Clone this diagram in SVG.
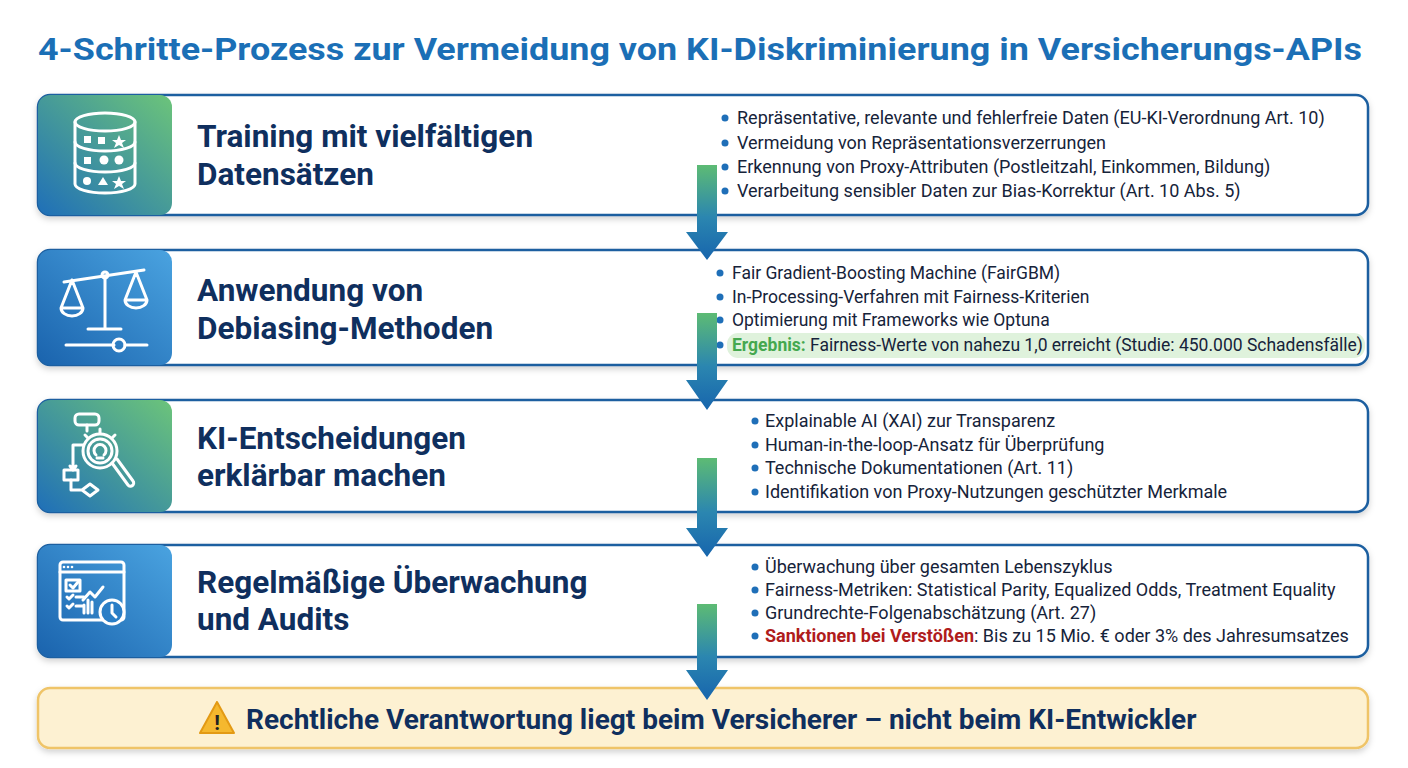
<svg xmlns="http://www.w3.org/2000/svg" width="1408" height="768" viewBox="0 0 1408 768">
<defs>
<linearGradient id="gGreen" x1="1" y1="0" x2="0" y2="1"><stop offset="0" stop-color="#6cc47a"/><stop offset="1" stop-color="#1f6fb8"/></linearGradient>
<linearGradient id="gBlue" x1="1" y1="0" x2="0" y2="1"><stop offset="0" stop-color="#4aa3e0"/><stop offset="1" stop-color="#1a63ad"/></linearGradient>
<linearGradient id="gArrow" x1="0" y1="0" x2="0" y2="1"><stop offset="0" stop-color="#5dbb74"/><stop offset="0.55" stop-color="#2b86b0"/><stop offset="1" stop-color="#1765ad"/></linearGradient>
<filter id="sh" x="-5%" y="-20%" width="110%" height="150%"><feDropShadow dx="0" dy="3" stdDeviation="3" flood-color="#000" flood-opacity="0.18"/></filter>
</defs>
<style>
.box{fill:#fff;stroke:#1d5fa0;stroke-width:2.5;filter:url(#sh)}
.ttl{font-family:Roboto,"Liberation Sans",sans-serif;font-weight:700;font-size:31.5px;fill:#0f2f5e}
.bl{font-family:Roboto,"Liberation Sans",sans-serif;font-size:18px;fill:#16233a}
.dot{fill:#1f6fb8}
.ic{fill:none;stroke:#fff;stroke-width:3;stroke-linecap:round;stroke-linejoin:round}
.icf{fill:#fff}
</style>
<rect width="1408" height="768" fill="#fff"/>
<text x="700" y="60" text-anchor="middle" font-family="Roboto,'Liberation Sans',sans-serif" font-weight="700" font-size="32" fill="#1b6fb6" textLength="1324" lengthAdjust="spacingAndGlyphs">4-Schritte-Prozess zur Vermeidung von KI-Diskriminierung in Versicherungs-APIs</text>

<g id="step1">
<rect class="box" x="38" y="95" width="1330" height="120" rx="12"/>
<path d="M50 95 h110 a12 12 0 0 1 12 12 v96 a12 12 0 0 1 -12 12 h-110 a12 12 0 0 1 -12 -12 v-96 a12 12 0 0 1 12 -12z" fill="url(#gGreen)"/>
<g class="ic">
<ellipse cx="105" cy="122" rx="30" ry="9"/>
<path d="M75 122 v62 a30 9 0 0 0 60 0 v-62"/>
<path d="M75 142 a30 9 0 0 0 60 0 M75 163 a30 9 0 0 0 60 0"/>
</g>
<g class="icf">
<rect x="84" y="136" width="7" height="7"/><rect x="98" y="137" width="7" height="7"/><path d="M119 135 l2 5 5 0 -4 3 2 5 -5 -3 -5 3 2 -5 -4 -3 5 0z"/>
<rect x="84" y="157" width="7" height="7"/><circle cx="104" cy="160" r="4.5"/><circle cx="119" cy="160" r="4.5"/>
<circle cx="87" cy="181" r="4"/><path d="M103 177 l5 8 h-10z"/><path d="M119 176 l2 5 5 0 -4 3 2 5 -5 -3 -5 3 2 -5 -4 -3 5 0z"/>
</g>
<text class="ttl" x="197" y="147">Training mit vielfältigen</text>
<text class="ttl" x="197" y="185">Datensätzen</text>
<g class="bl">
<circle class="dot" cx="725" cy="118" r="3.5"/><text x="737" y="124">Repräsentative, relevante und fehlerfreie Daten (EU-KI-Verordnung Art. 10)</text>
<circle class="dot" cx="725" cy="143" r="3.5"/><text x="737" y="149">Vermeidung von Repräsentationsverzerrungen</text>
<circle class="dot" cx="725" cy="167" r="3.5"/><text x="737" y="173">Erkennung von Proxy-Attributen (Postleitzahl, Einkommen, Bildung)</text>
<circle class="dot" cx="725" cy="191" r="3.5"/><text x="737" y="197">Verarbeitung sensibler Daten zur Bias-Korrektur (Art. 10 Abs. 5)</text>
</g>
</g>

<g id="step2">
<rect class="box" x="38" y="250" width="1330" height="115" rx="12"/>
<path d="M50 250 h110 a12 12 0 0 1 12 12 v91 a12 12 0 0 1 -12 12 h-110 a12 12 0 0 1 -12 -12 v-91 a12 12 0 0 1 12 -12z" fill="url(#gBlue)"/>
<g class="ic">
<path d="M64 282 l80 -12 M105 276 v52 M88 329 h33 M66 345 h48 M125 345 h22"/>
<circle cx="105" cy="275" r="3"/>
<circle cx="119" cy="345" r="6"/>
<path d="M72 280 l-11 28 h22z M61 308 a11 8 0 0 0 22 0 M136 272 l-11 28 h22z M125 300 a11 8 0 0 0 22 0"/>
</g>
<text class="ttl" x="197" y="301">Anwendung von</text>
<text class="ttl" x="197" y="339">Debiasing-Methoden</text>
<rect x="727" y="333" width="638" height="25" rx="11" fill="#dff2dc"/>
<g class="bl" font-size="17.5">
<circle class="dot" cx="720" cy="273" r="3.5"/><text x="732" y="279" font-size="17.5">Fair Gradient-Boosting Machine (FairGBM)</text>
<circle class="dot" cx="720" cy="297" r="3.5"/><text x="732" y="303" font-size="17.5">In-Processing-Verfahren mit Fairness-Kriterien</text>
<circle class="dot" cx="720" cy="320" r="3.5"/><text x="732" y="326" font-size="17.5">Optimierung mit Frameworks wie Optuna</text>
<circle class="dot" cx="720" cy="345" r="3.5"/><text x="732" y="351" font-size="17.5"><tspan font-weight="700" fill="#45a84f">Ergebnis:</tspan> Fairness-Werte von nahezu 1,0 erreicht (Studie: 450.000 Schadensfälle)</text>
</g>
</g>

<g id="step3">
<rect class="box" x="38" y="400" width="1330" height="112" rx="12"/>
<path d="M50 400 h110 a12 12 0 0 1 12 12 v88 a12 12 0 0 1 -12 12 h-110 a12 12 0 0 1 -12 -12 v-88 a12 12 0 0 1 12 -12z" fill="url(#gGreen)"/>
<g class="ic" stroke-width="2.5">
<rect x="75" y="414" width="24" height="11" rx="4"/>
<path d="M87 425 v6"/>
<circle cx="100" cy="451" r="17"/><circle cx="100" cy="451" r="12"/>
<path d="M112 463 l16 22 a3 3 0 0 0 5 -4 l-16 -22"/>
<path d="M97 458 h6 M96 455 a6 6 0 1 1 8 0"/>
<path d="M83 445 h-10 v25 M70 466 l3 4 3 -4"/>
<rect x="64" y="470" width="14" height="10"/>
<path d="M71 480 v10 h11 M82 490 l8 -6 8 6 -8 6z M100 433 v-4 M88 438 l-3 -3 M112 438 l3 -3"/>
</g>
<text class="ttl" x="197" y="449">KI-Entscheidungen</text>
<text class="ttl" x="197" y="486">erklärbar machen</text>
<g class="bl">
<circle class="dot" cx="755" cy="421" r="3.5"/><text x="765" y="427">Explainable AI (XAI) zur Transparenz</text>
<circle class="dot" cx="755" cy="445" r="3.5"/><text x="765" y="451">Human-in-the-loop-Ansatz für Überprüfung</text>
<circle class="dot" cx="755" cy="468" r="3.5"/><text x="765" y="474">Technische Dokumentationen (Art. 11)</text>
<circle class="dot" cx="755" cy="492" r="3.5"/><text x="765" y="498">Identifikation von Proxy-Nutzungen geschützter Merkmale</text>
</g>
</g>

<g id="step4">
<rect class="box" x="38" y="545" width="1330" height="112" rx="12"/>
<path d="M50 545 h110 a12 12 0 0 1 12 12 v88 a12 12 0 0 1 -12 12 h-110 a12 12 0 0 1 -12 -12 v-88 a12 12 0 0 1 12 -12z" fill="url(#gBlue)"/>
<g class="ic" stroke-width="2.2">
<rect x="60" y="562" width="64" height="58" rx="3"/>
<path d="M60 572 h64"/>
<rect x="66" y="580" width="14" height="11"/><path d="M70 585 l3 3 5 -6"/>
<path d="M67 597 l2 2 4 -4 M76 597 h8 M67 606 l2 2 4 -4 M76 606 h8 M84 605 v8 M88 600 v13 M92 602 v11"/>
<path d="M83 600 l7 -8 5 5 8 -10"/>
<circle cx="112" cy="612" r="12" fill="#2a7ec6"/><path d="M112 605 v8 l4 4"/>
</g>
<g class="icf"><circle cx="64" cy="567" r="1.3"/><circle cx="68" cy="567" r="1.3"/><circle cx="72" cy="567" r="1.3"/></g>
<text class="ttl" x="197" y="593">Regelmäßige Überwachung</text>
<text class="ttl" x="197" y="630">und Audits</text>
<g class="bl">
<circle class="dot" cx="755" cy="567" r="3.5"/><text x="765" y="573">Überwachung über gesamten Lebenszyklus</text>
<circle class="dot" cx="755" cy="590" r="3.5"/><text x="765" y="596">Fairness-Metriken: Statistical Parity, Equalized Odds, Treatment Equality</text>
<circle class="dot" cx="755" cy="613" r="3.5"/><text x="765" y="619">Grundrechte-Folgenabschätzung (Art. 27)</text>
<circle class="dot" cx="755" cy="636" r="3.5"/><text x="765" y="642"><tspan font-weight="700" fill="#b01c1c">Sanktionen bei Verstößen</tspan>: Bis zu 15 Mio. € oder 3% des Jahresumsatzes</text>
</g>
</g>

<g id="footer">
<rect x="38" y="688" width="1330" height="60" rx="12" fill="#fdf1d2" stroke="#efc468" stroke-width="2.5" filter="url(#sh)"/>
<path d="M217 702 l-17 31 h34z" fill="#f5b82e" stroke="#e39a14" stroke-width="2" stroke-linejoin="round"/>
<text x="217" y="730" text-anchor="middle" font-family="Roboto,sans-serif" font-weight="700" font-size="21" fill="#222">!</text>
<text x="246" y="729" font-family="Roboto,'Liberation Sans',sans-serif" font-weight="700" font-size="28" fill="#0f2f5e">Rechtliche Verantwortung liegt beim Versicherer – nicht beim KI-Entwickler</text>
</g>

<g id="connectors" fill="url(#gArrow)">
<path d="M697 165 h20 v67 h11 l-21 28 -21 -28 h11z"/>
<path d="M697 313 h20 v67 h11 l-21 30 -21 -30 h11z"/>
<path d="M697 458 h20 v70 h11 l-21 29 -21 -29 h11z"/>
<path d="M697 604 h20 v66 h11 l-21 30 -21 -30 h11z"/>
</g>
</svg>
